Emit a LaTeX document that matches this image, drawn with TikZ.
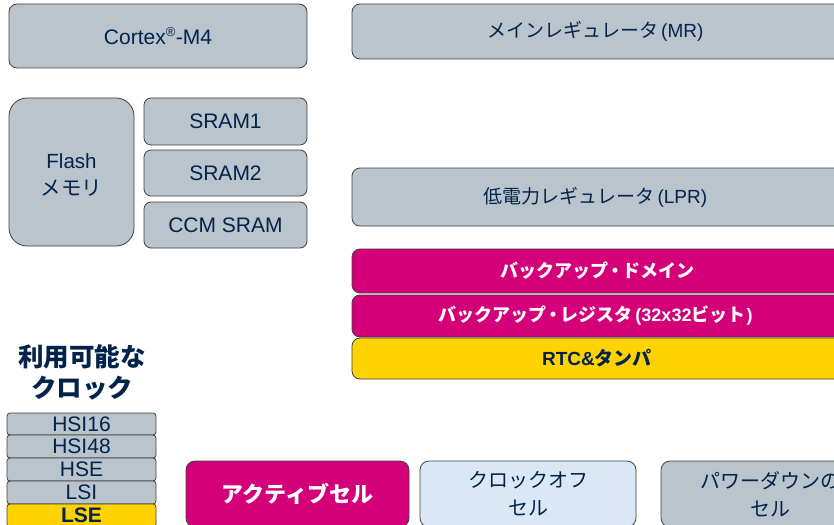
\documentclass[tikz,border=0pt]{standalone}
\usepackage{fontspec}
\setmainfont{Liberation Sans}
\newfontfamily\jp{Noto Sans CJK JP}
\definecolor{gfill}{HTML}{B9C4CC}
\definecolor{navy}{HTML}{03234B}
\definecolor{stmag}{HTML}{D4007A}
\definecolor{styel}{HTML}{FFD200}
\definecolor{lblue}{HTML}{DAE8F5}
\definecolor{edge}{HTML}{404040}
\newcommand{\J}[1]{{\jp #1}}
\tikzset{
  blk/.style={draw=edge, line width=0.8pt, rounded corners=8pt, fill=gfill, text=navy,
    inner sep=0pt, align=center, font=\fontsize{21}{24}\selectfont},
  magblk/.style={blk, fill=stmag, text=white, font=\fontsize{18}{22}\selectfont\bfseries},
  yelblk/.style={blk, fill=styel, text=navy, font=\fontsize{19}{22}\selectfont\bfseries},
  clk/.style={blk, rounded corners=3pt, minimum width=149pt, minimum height=23pt,
    font=\fontsize{21}{22}\selectfont},
  cell/.style={blk, rounded corners=9pt, minimum width=218pt, minimum height=66pt,
    font=\fontsize{20}{28}\selectfont},
  ttl/.style={text=navy, inner sep=0pt, font=\fontsize{25.5}{28}\selectfont\bfseries\jp}
}
\begin{document}
\begin{tikzpicture}[x=1pt,y=-1pt]
\useasboundingbox (0,0) rectangle (834,524);
\clip (0,0) rectangle (834,524);
% left column
\node[blk, minimum width=298pt, minimum height=64pt] (cortex) at (158,36) {Cortex\textsuperscript{\fontsize{13}{13}\selectfont ®}-M4};
\node[blk, rounded corners=18pt, minimum width=125pt, minimum height=148pt] (flash) at (71.5,172) {};
\node[text=navy, inner sep=0pt, align=center, font=\fontsize{20.5}{27}\selectfont] (flashtxt) at (71.5,175) {Flash\\\J{メモリ}};
\node[blk, rounded corners=7pt, minimum width=163pt, minimum height=47pt] (sram1) at (225.5,121.5) {SRAM1};
\node[blk, rounded corners=7pt, minimum width=163pt, minimum height=46pt] (sram2) at (225.5,173) {SRAM2};
\node[blk, rounded corners=7pt, minimum width=163pt, minimum height=46pt] (ccm) at (225.5,225) {CCM SRAM};
% right column
\node[blk, minimum width=490pt, minimum height=55pt, font=\fontsize{19}{22}\selectfont] (mr) at (597,31.5) {\J{メインレギュレータ}\kern3pt(MR)\kern3pt};
\node[blk, minimum width=490pt, minimum height=58pt, font=\fontsize{19}{22}\selectfont] (lpr) at (597,197) {\J{低電力レギュレータ}\kern3pt(LPR)\kern3pt};
\node[magblk, minimum width=490pt, minimum height=44pt] (bkd) at (597,271) {\J{バックアップ}\kern-2pt\J{・}\kern-2pt\J{ドメイン}};
\node[magblk, minimum width=490pt, minimum height=42pt] (bkr) at (597,316) {\J{バックアップ}\kern-2pt\J{・}\kern-2pt\J{レジスタ}\kern3pt(32x32\J{ビット}\kern1pt)\kern3pt};
\node[yelblk, minimum width=490pt, minimum height=41pt] (rtc) at (597,358.5) {RTC\&\J{タンパ}};
% clocks
\node[ttl] (t1) at (82,357) {利用可能な};
\node[ttl] (t2) at (82,388) {クロック};
\node[clk, minimum height=22pt] (hsi16) at (81.5,424) {HSI16};
\node[clk] (hsi48) at (81.5,446.5) {HSI48};
\node[clk] (hse) at (81.5,469.5) {HSE};
\node[clk] (lsi) at (81.5,492.5) {LSI};
\node[clk, fill=styel, font=\fontsize{21}{22}\selectfont\bfseries] (lse) at (81.5,515.5) {LSE};
% cells
\node[cell, minimum width=223pt, fill=stmag, text=white, font=\fontsize{22}{28}\selectfont\bfseries] (active) at (297.5,494) {\J{アクティブセル}};
\node[cell, minimum width=216pt, fill=lblue] (cloff) at (528,494) {\J{クロックオフ}\\\J{セル}};
\node[cell] (pdown) at (770,494) {\J{パワーダウンの}\\\J{セル}};
\end{tikzpicture}
\end{document}
